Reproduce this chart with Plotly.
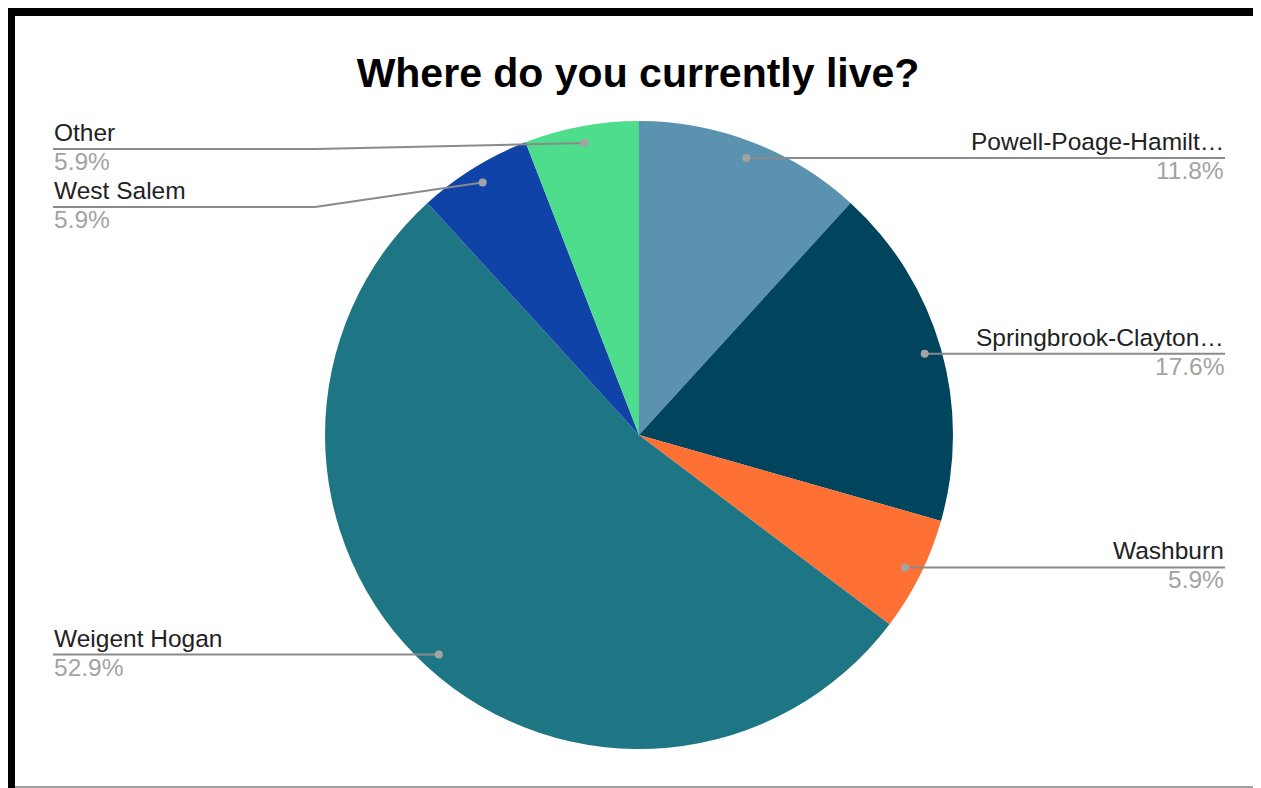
import math
import plotly.graph_objects as go

# ---- data ----
labels = ["Powell-Poage-Hamilt…", "Springbrook-Clayton…", "Washburn",
          "Weigent Hogan", "West Salem", "Other"]
counts = [2, 3, 1, 9, 1, 1]
colors = ["#5A92AF", "#01445E", "#FF7034", "#1E7684", "#1043A8", "#4DDD8C"]
title_text = "Where do you currently live?"

OFF = 8                            # default page body margin
FW, FH = 1261 - OFF, 788 - OFF     # figure size fitting the window
CX, CY, R = 639, 435, 314          # pie centre / radius in page pixels
DOT_R = 0.946 * R                  # radius at which leader dots sit


def px(x):
    return (x - OFF) / FW


def py(y):
    return 1 - (y - OFF) / FH


fig = go.Figure()
fig.add_trace(go.Pie(
    labels=labels, values=counts, sort=False, direction="clockwise",
    rotation=0, marker=dict(colors=colors, line=dict(width=0)),
    textinfo="none", hoverinfo="label+percent", showlegend=False,
    domain=dict(x=[px(CX - R), px(CX + R)], y=[py(CY + R), py(CY - R)]),
))

total = sum(counts)
shapes = []
annotations = []
LINE_COLOR = "#8a8a8a"
DOT_COLOR = "#a3a3a3"
FAMILY = "Liberation Sans, Arial, sans-serif"
NAME_FONT = dict(family=FAMILY, size=24.5, color="#222222")
PCT_FONT = dict(family=FAMILY, size=24.5, color="#a3a3a3")

# label placement on the left side (stacked when they would collide)
left_label_y = {"Other": 149, "West Salem": 207}
LEFT_X, RIGHT_X, ELBOW_X = 53, 1225, 315

cum = 0
for lab, v in zip(labels, counts):
    frac = v / total
    mid = (cum + frac / 2) * 2 * math.pi
    cum += frac
    dx = CX + DOT_R * math.sin(mid)
    dy = CY - DOT_R * math.cos(mid)
    pct = f"{100 * frac:.1f}%"
    right = math.sin(mid) > 0
    ly = left_label_y.get(lab, dy)
    if right:
        shapes.append(dict(type="line", xref="paper", yref="paper",
                           x0=px(dx), y0=py(dy), x1=px(RIGHT_X), y1=py(dy),
                           line=dict(color=LINE_COLOR, width=2)))
        tx, anchor = RIGHT_X, "right"
    else:
        if abs(ly - dy) > 1:
            shapes.append(dict(type="line", xref="paper", yref="paper",
                               x0=px(LEFT_X), y0=py(ly), x1=px(ELBOW_X), y1=py(ly),
                               line=dict(color=LINE_COLOR, width=2)))
            shapes.append(dict(type="line", xref="paper", yref="paper",
                               x0=px(ELBOW_X), y0=py(ly), x1=px(dx), y1=py(dy),
                               line=dict(color=LINE_COLOR, width=2)))
        else:
            shapes.append(dict(type="line", xref="paper", yref="paper",
                               x0=px(LEFT_X), y0=py(ly), x1=px(dx), y1=py(dy),
                               line=dict(color=LINE_COLOR, width=2)))
        tx, anchor = LEFT_X, "left"
    # dot
    shapes.append(dict(type="circle", xref="paper", yref="paper",
                       x0=px(dx - 4), x1=px(dx + 4), y0=py(dy + 4), y1=py(dy - 4),
                       fillcolor=DOT_COLOR, line=dict(width=0)))
    annotations.append(dict(x=px(tx), y=py(ly), xref="paper", yref="paper",
                            text=lab, showarrow=False, xanchor=anchor,
                            yanchor="bottom", font=NAME_FONT, borderpad=0, yshift=2))
    annotations.append(dict(x=px(tx), y=py(ly), xref="paper", yref="paper",
                            text=pct, showarrow=False, xanchor=anchor,
                            yanchor="top", font=PCT_FONT, borderpad=0, yshift=2))

# frame
shapes.append(dict(type="rect", xref="paper", yref="paper", layer="above",
                   x0=0, x1=1, y0=py(16), y1=1,
                   fillcolor="black", line=dict(width=0)))
shapes.append(dict(type="rect", xref="paper", yref="paper", layer="above",
                   x0=0, x1=px(15), y0=0, y1=1,
                   fillcolor="black", line=dict(width=0)))
shapes.append(dict(type="line", xref="paper", yref="paper",
                   x0=px(15), x1=1, y0=py(787), y1=py(787),
                   line=dict(color="#a0a0a0", width=2)))

fig.update_layout(
    width=FW, height=FH,
    margin=dict(l=0, r=0, t=0, b=0, pad=0),
    paper_bgcolor="white", plot_bgcolor="white",
    title=dict(text=f"<b>{title_text}</b>", x=px(638), xanchor="center",
               y=py(73), yanchor="middle", yref="container",
               font=dict(family=FAMILY, size=41, color="black")),
    shapes=shapes, annotations=annotations,
)

fig.write_html("out.html")
